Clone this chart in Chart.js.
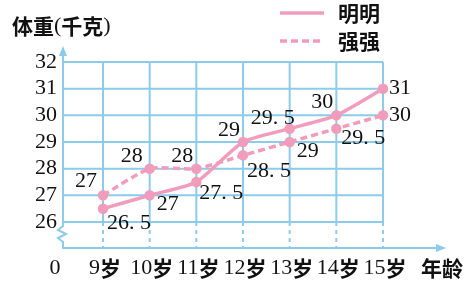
<!DOCTYPE html>
<html>
<head>
<meta charset="utf-8">
<script src="https://cdn.jsdelivr.net/npm/chart.js@4"></script>
<style>
  html, body { margin: 0; padding: 0; background: #fff; }
</style>
</head>
<body>
<canvas id="chart" width="466" height="283"></canvas>
<script>
// data
const ages = [9, 10, 11, 12, 13, 14, 15];
const ageLabels = ['9岁', '10岁', '11岁', '12岁', '13岁', '14岁', '15岁'];
const mingming = [26.5, 27, 27.5, 29, 29.5, 30, 31];
const qiangqiang = [27, 28, 28, 28.5, 29, 29.5, 30];
const yTicks = [26, 27, 28, 29, 30, 31, 32];
const seriesNames = ['明明', '强强'];

// where each value label sits relative to its point: [dx, dy, align]
const mingLabelPos = [[4, 15, 'left'], [7, 9, 'left'], [3, 11, 'left'], [-3, -12, 'right'],
                      [5, -10, 'right'], [-3, -13, 'right'], [6, 0, 'left']];
const qiangLabelPos = [[-6, -14, 'right'], [-7, -12, 'right'], [-3, -12, 'right'], [4, 16, 'left'],
                       [7, 9, 'left'], [5, 10, 'left'], [6, 0, 'left']];

const pink = '#f29cbc';
const gridBlue = '#8dcbea';
const numFont = '22px "Liberation Serif", "DejaVu Serif", serif';
const cjkFont = 'bold 21px "Noto Sans CJK SC", sans-serif';

function fmt(v) {
    return Number.isInteger(v) ? String(v) : String(v).replace('.', '. ');
}

// mixed label: digits in serif, chinese in cjk font
function mixedText(ctx, text, x, y, align) {
    const parts = text.match(/[0-9.() ]+|[^0-9.() ]+/g);
    const fontOf = s => /[0-9.() ]/.test(s[0]) ? numFont : cjkFont;
    let total = 0;
    parts.forEach(p => { ctx.font = fontOf(p); total += ctx.measureText(p).width; });
    let cx = align === 'center' ? x - total / 2 : x;
    ctx.textAlign = 'left';
    parts.forEach(p => {
        ctx.font = fontOf(p);
        ctx.fillText(p, cx, y);
        cx += ctx.measureText(p).width;
    });
}

const gridPlugin = {
    id: 'paperGrid',
    beforeDatasetsDraw(chart) {
        const ctx = chart.ctx;
        const xs = chart.scales.x, ys = chart.scales.y;
        const area = chart.chartArea;
        const yTop = ys.getPixelForValue(yTicks[yTicks.length - 1]);
        const yLow = ys.getPixelForValue(yTicks[0]);
        const left = area.left, right = xs.getPixelForValue(ages[ages.length - 1]);
        const bottom = area.bottom;

        ctx.save();
        ctx.strokeStyle = gridBlue;
        ctx.fillStyle = gridBlue;
        ctx.lineWidth = 2;

        // horizontal lines
        yTicks.forEach(t => {
            const y = ys.getPixelForValue(t);
            ctx.beginPath();
            ctx.moveTo(left, y);
            ctx.lineTo(right, y);
            ctx.stroke();
        });

        // vertical lines, solid above 26 and dashed below
        ages.forEach(a => {
            const x = xs.getPixelForValue(a);
            ctx.setLineDash([]);
            ctx.beginPath();
            ctx.moveTo(x, yTop);
            ctx.lineTo(x, yLow);
            ctx.stroke();
            ctx.setLineDash([4, 4]);
            ctx.beginPath();
            ctx.moveTo(x, yLow);
            ctx.lineTo(x, bottom);
            ctx.stroke();
        });
        ctx.setLineDash([]);

        // y axis with break
        ctx.beginPath();
        ctx.moveTo(left, yTop - 8);
        ctx.lineTo(left, yLow + 4);
        ctx.lineTo(left - 5, yLow + 8);
        ctx.lineTo(left + 3, yLow + 12);
        ctx.lineTo(left - 5, yLow + 16);
        ctx.lineTo(left, yLow + 20);
        ctx.lineTo(left, bottom);
        ctx.lineTo(440, bottom);
        ctx.stroke();

        // arrow heads
        ctx.beginPath();
        ctx.moveTo(left, yTop - 16);
        ctx.lineTo(left - 4, yTop - 6);
        ctx.lineTo(left + 4, yTop - 6);
        ctx.closePath();
        ctx.fill();
        ctx.beginPath();
        ctx.moveTo(446, bottom);
        ctx.lineTo(436, bottom - 4);
        ctx.lineTo(436, bottom + 4);
        ctx.closePath();
        ctx.fill();
        ctx.restore();
    },
    afterDraw(chart) {
        const ctx = chart.ctx;
        const xs = chart.scales.x, ys = chart.scales.y;
        ctx.save();
        ctx.fillStyle = '#111';
        ctx.textBaseline = 'middle';

        // y tick labels
        ctx.font = numFont;
        ctx.textAlign = 'right';
        yTicks.forEach(t => ctx.fillText(String(t), 57, ys.getPixelForValue(t)));

        // x tick labels
        ages.forEach((a, i) => mixedText(ctx, ageLabels[i], xs.getPixelForValue(a) + 2, 268, 'center'));
        ctx.font = numFont;
        ctx.textAlign = 'center';
        ctx.fillText('0', 55, 268);

        // axis titles
        ctx.font = cjkFont;
        ctx.textAlign = 'left';
        ctx.fillText('年龄', 421, 268);
        mixedText(ctx, '体重(千克)', 12, 26, 'left');

        // value labels
        ctx.font = numFont;
        const posSets = [mingLabelPos, qiangLabelPos];
        chart.data.datasets.forEach((ds, di) => {
            const meta = chart.getDatasetMeta(di);
            meta.data.forEach((pt, i) => {
                const p = posSets[di][i];
                ctx.textAlign = p[2];
                ctx.fillText(fmt(ds.data[i].y), pt.x + p[0], pt.y + p[1]);
            });
        });

        // legend
        chart.data.datasets.forEach((ds, di) => {
            const y = 13 + di * 28;
            ctx.strokeStyle = ds.borderColor;
            ctx.lineWidth = ds.borderWidth;
            ctx.setLineDash(ds.borderDash || []);
            ctx.beginPath();
            ctx.moveTo(280, y);
            ctx.lineTo(324, y);
            ctx.stroke();
            ctx.font = cjkFont;
            ctx.textAlign = 'left';
            ctx.fillText(ds.label, 338, y);
        });
        ctx.restore();
    }
};

new Chart(document.getElementById('chart'), {
    type: 'line',
    data: {
        datasets: [{
            label: seriesNames[0],
            data: ages.map((a, i) => ({ x: a, y: mingming[i] })),
            borderColor: pink,
            backgroundColor: pink,
            borderWidth: 3.5,
            pointRadius: 3.5,
            tension: 0.2,
            clip: false
        }, {
            label: seriesNames[1],
            data: ages.map((a, i) => ({ x: a, y: qiangqiang[i] })),
            borderColor: pink,
            backgroundColor: pink,
            borderWidth: 3.5,
            borderDash: [7, 4],
            pointRadius: 3.5,
            tension: 0.2,
            clip: false
        }]
    },
    options: {
        responsive: false,
        animation: false,
        devicePixelRatio: 1,
        layout: { padding: { left: 63, top: 62, right: 83, bottom: 35 } },
        plugins: { legend: { display: false }, tooltip: { enabled: false } },
        scales: {
            x: { type: 'linear', display: false, min: 8.143, max: 15 },
            y: { display: false, min: 25.025, max: 32 }
        }
    },
    plugins: [gridPlugin]
});
</script>
</body>
</html>
